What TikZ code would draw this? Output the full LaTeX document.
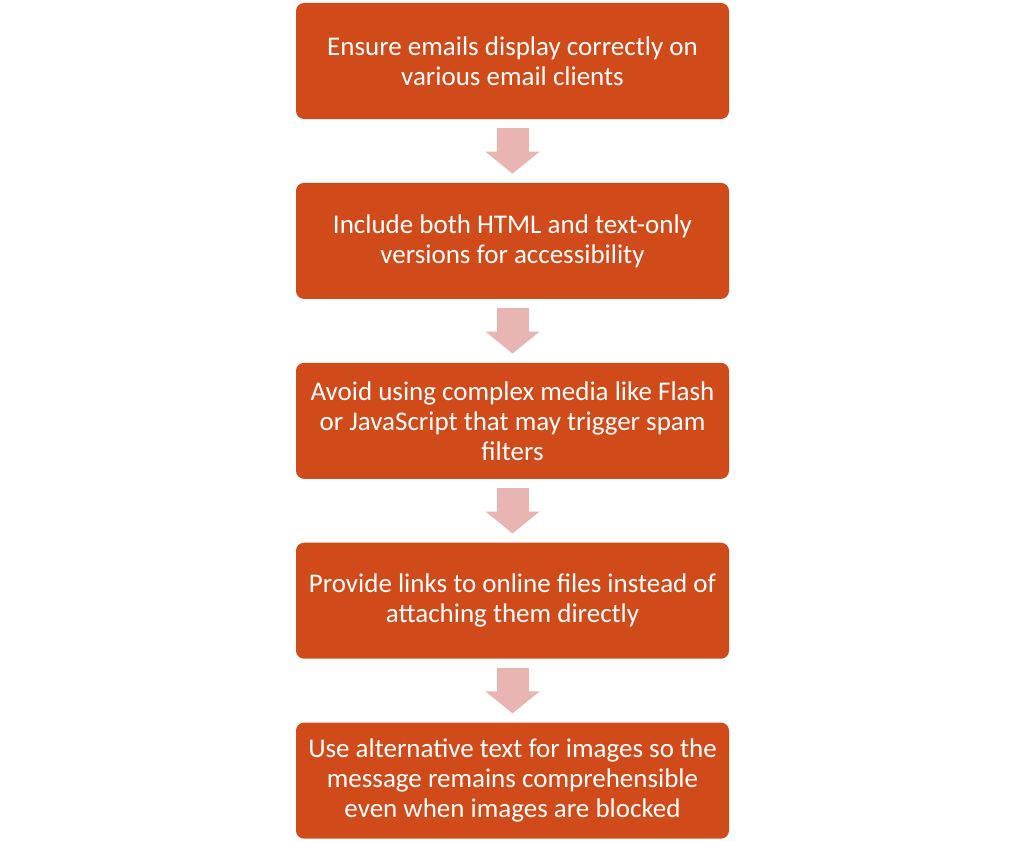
\documentclass[tikz,border=0pt]{standalone}
\usepackage{fontspec}
\setmainfont{Carlito}
\usetikzlibrary{positioning,arrows.meta}
\definecolor{tipbox}{HTML}{D14A19}
\definecolor{tiparrow}{HTML}{E8B5B3}
\begin{document}
\begin{tikzpicture}[x=1pt, y=1pt, node distance=63.5pt,
    tip/.style={fill=tipbox, rounded corners=8pt, text=white, minimum width=433pt,
      minimum height=116pt, align=center, inner sep=0pt,
      font=\fontsize{27}{30}\selectfont},
    flow/.style={draw=tiparrow, line width=32pt, shorten <=9pt, shorten >=9pt,
      -{Triangle[width=53pt 0 0, length=22pt 0 0]}}]
      \useasboundingbox (0,0) rectangle (1024,-840);

      \node[tip] (display) at (512.5,-61) {Ensure emails display correctly on\\various email clients};
      \node[tip, below=of display] (versions) {Include both HTML and text-only\\versions for accessibility};
      \node[tip, below=of versions] (media) {Avoid using complex media like Flash\\or JavaScript that may trigger spam\\filters};
      \node[tip, below=of media] (links) {Provide links to online files instead of\\attaching them directly};
      \node[tip, below=of links] (alttext) {Use alternative text for images so the\\message remains comprehensible\\even when images are blocked};

      \draw[flow] (display) -- (versions);
      \draw[flow] (versions) -- (media);
      \draw[flow] (media) -- (links);
      \draw[flow] (links) -- (alttext);
    \end{tikzpicture}
\end{document}
